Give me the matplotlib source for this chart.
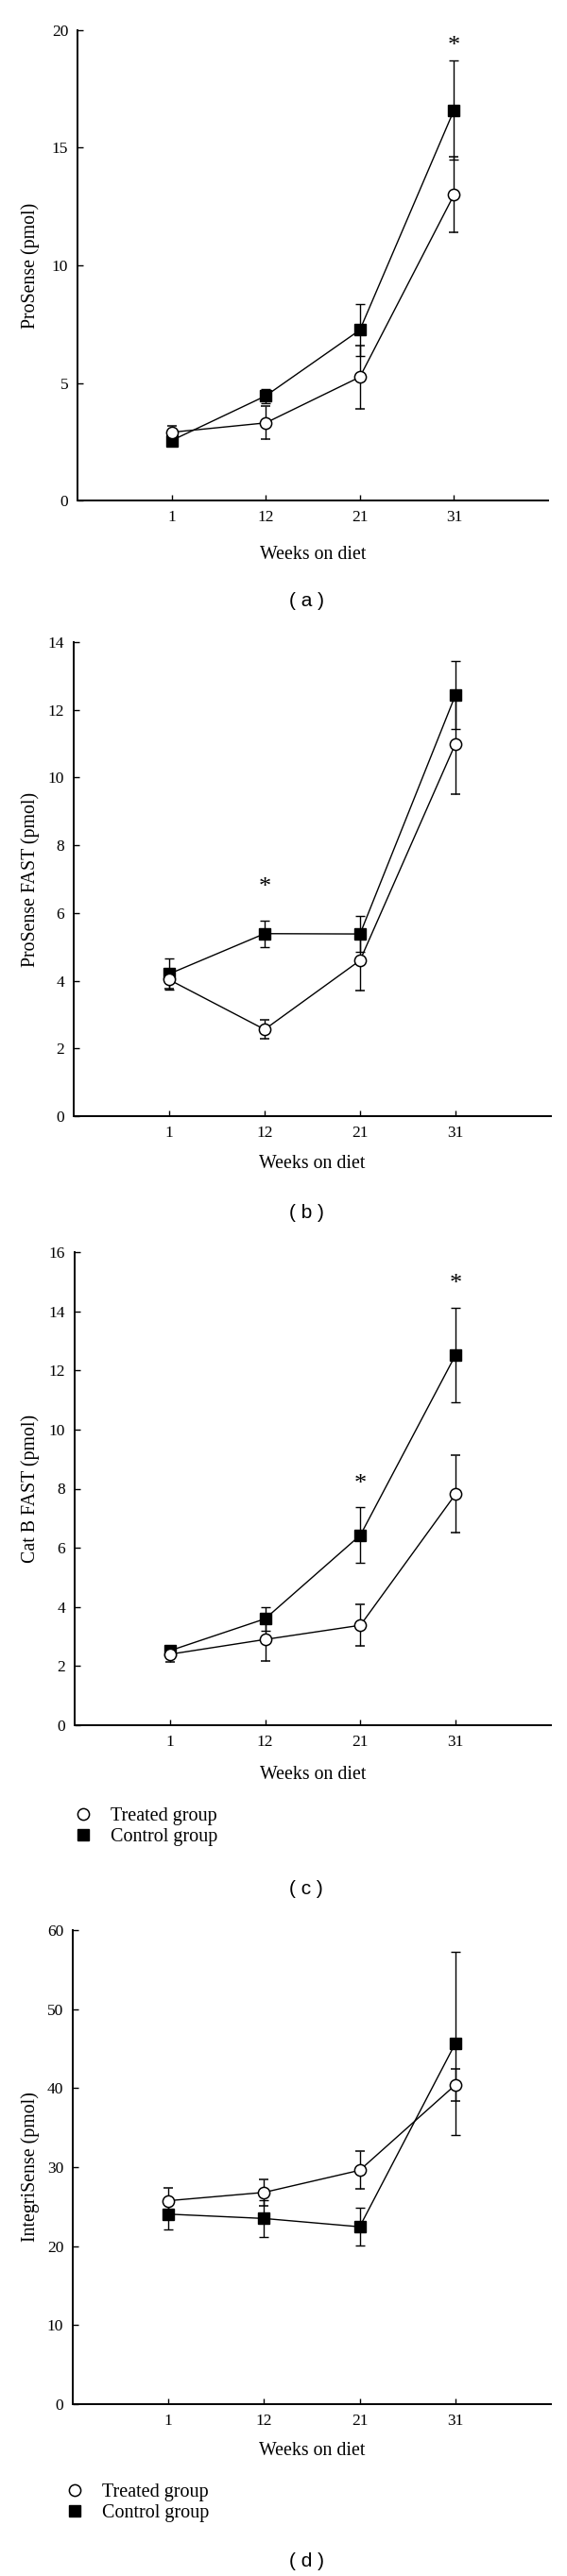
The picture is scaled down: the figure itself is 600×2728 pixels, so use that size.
import matplotlib
matplotlib.use("Agg")
import matplotlib.pyplot as plt
from matplotlib.lines import Line2D

# ---------------- data ----------------
weeks = ["1", "12", "21", "31"]

a_treated = [2.9, 3.3, 5.25, 13.0]
a_treated_err = [0.27, 0.7, 1.35, 1.6]
a_control = [2.55, 4.45, 7.25, 16.6]
a_control_err = [0.2, 0.3, 1.1, 2.1]
a_star = {3: 19.3}

b_treated = [4.03, 2.56, 4.6, 11.0]
b_treated_err = [0.27, 0.28, 0.9, 1.5]
b_control = [4.2, 5.39, 5.38, 12.44]
b_control_err = [0.45, 0.39, 0.54, 1.0]
b_star = {1: 6.75}

c_treated = [2.4, 2.9, 3.38, 7.82]
c_treated_err = [0.27, 0.72, 0.71, 1.3]
c_control = [2.52, 3.6, 6.43, 12.53]
c_control_err = [0.15, 0.4, 0.94, 1.6]
c_star = {2: 8.15, 3: 14.9}

d_treated = [25.75, 26.8, 29.6, 40.4]
d_treated_err = [1.6, 1.65, 2.4, 2.0]
d_control = [24.05, 23.5, 22.45, 45.65]
d_control_err = [1.9, 2.3, 2.4, 11.6]
d_star = {}

ylabels = ["ProSense (pmol)", "ProSense FAST (pmol)", "Cat B FAST (pmol)", "IntegriSense (pmol)"]
yticks = [[0, 5, 10, 15, 20], list(range(0, 15, 2)), list(range(0, 17, 2)), list(range(0, 61, 10))]
panel_tags = ["( a )", "( b )", "( c )", "( d )"]
legend_labels = ["Treated group", "Control group"]

# ---------------- layout (pixels) ----------------
W, H = 600, 2728
SERIF = ["Liberation Serif", "DejaVu Serif"]
SANS = ["Liberation Sans", "DejaVu Sans"]
plt.rcParams["font.family"] = SERIF

fig = plt.figure(figsize=(W / 100, H / 100), dpi=100)

# left, right, top, bottom of each plot area
boxes = [(82, 580, 32, 530), (78, 583, 680, 1182), (79, 583, 1326, 1827), (77, 583, 2044, 2546)]
xlabel_y = [588, 1233, 1880, 2595]
tag_y = [636, 1284, 2000, 2712]
legend_pos = [None, None, (79, 1914), (70, 2630)]

panels = [
    (a_treated, a_treated_err, a_control, a_control_err, a_star),
    (b_treated, b_treated_err, b_control, b_control_err, b_star),
    (c_treated, c_treated_err, c_control, c_control_err, c_star),
    (d_treated, d_treated_err, d_control, d_control_err, d_star),
]

x = list(range(1, len(weeks) + 1))
lw = 1.0
ms = 8.8

for i, (tr, tre, co, coe, stars) in enumerate(panels):
    l, r, t, b = boxes[i]
    ax = fig.add_axes([l / W, 1 - b / H, (r - l) / W, (b - t) / H])
    ax.errorbar(x, co, yerr=coe, color="black", lw=lw, elinewidth=lw, capsize=3.8, capthick=lw,
                marker="s", ms=ms - 0.3, mfc="black", mec="black", zorder=3)
    ax.errorbar(x, tr, yerr=tre, color="black", lw=lw, elinewidth=lw, capsize=3.8, capthick=lw,
                marker="o", ms=ms, mfc="white", mec="black", mew=1.1, zorder=4)
    for k, yv in stars.items():
        ax.text(x[k], yv, "*", ha="center", va="center", fontsize=19, family=SERIF)
    ax.set_xlim(0, 5)
    ax.set_ylim(0, yticks[i][-1])
    ax.set_xticks(x)
    ax.set_xticklabels(weeks)
    ax.set_yticks(yticks[i])
    ax.spines["top"].set_visible(False)
    ax.spines["right"].set_visible(False)
    for s in ("left", "bottom"):
        ax.spines[s].set_linewidth(1.4)
    ax.tick_params(axis="x", direction="in", length=4, width=1, pad=7, labelsize=12.5)
    ax.tick_params(axis="y", direction="in", length=4, width=1, pad=7, labelsize=12.5)
    cy = 1 - (t + b) / 2 / H
    fig.text(32 / W, cy, ylabels[i], rotation=90, ha="center", va="center", fontsize=14.3)
    cx = (l + r) / 2 / W
    fig.text(cx, 1 - xlabel_y[i] / H, "Weeks on diet", ha="center", va="center", fontsize=14.3)
    fig.text(324 / W, 1 - tag_y[i] / H, panel_tags[i], ha="center", va="center",
             fontsize=15, family=SANS)
    if legend_pos[i] is not None:
        lx, ly = legend_pos[i]
        handles = [
            Line2D([], [], ls="none", marker="o", ms=ms, mfc="white", mec="black", mew=1.1),
            Line2D([], [], ls="none", marker="s", ms=ms - 0.3, mfc="black", mec="black"),
        ]
        fig.legend(handles, legend_labels, loc="upper left",
                   bbox_to_anchor=(lx / W, 1 - ly / H), frameon=False, fontsize=14.5,
                   handlelength=0.9, handletextpad=0.97, labelspacing=0.12, borderpad=0,
                   borderaxespad=0)

fig.savefig("out.png", dpi=100)
